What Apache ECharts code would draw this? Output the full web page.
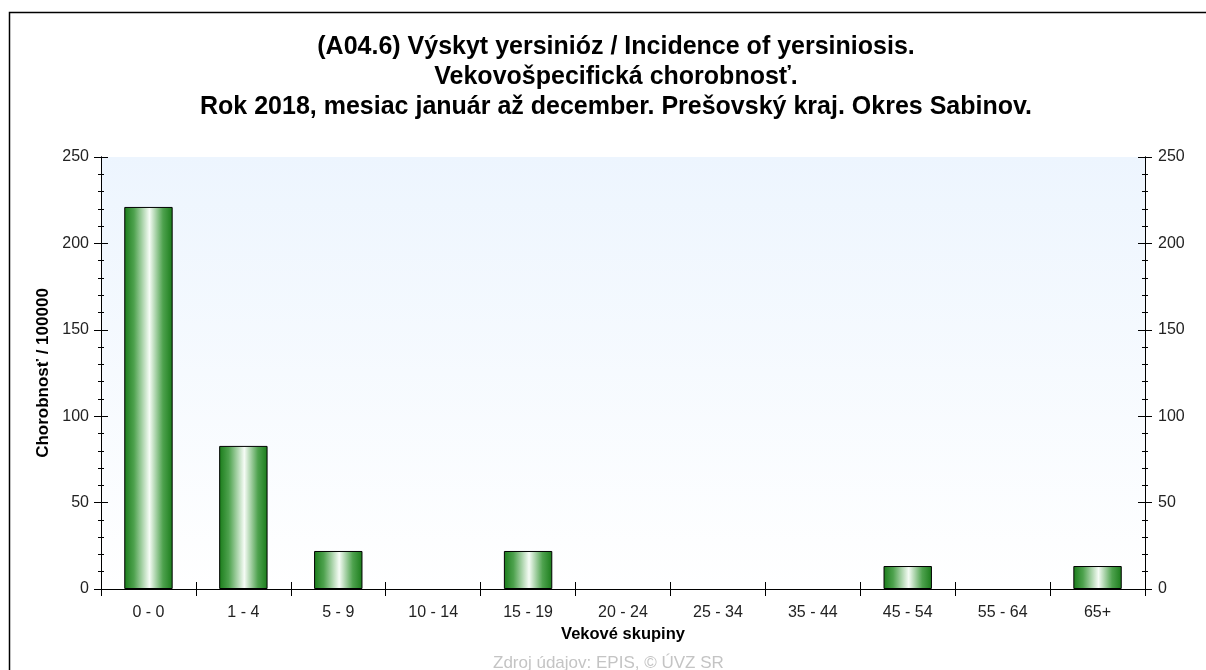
<!DOCTYPE html>
<html><head><meta charset="utf-8">
<script src="https://cdn.jsdelivr.net/npm/echarts@6/dist/echarts.min.js"></script>
<style>html,body{margin:0;padding:0;background:#fff}#c{width:1206px;height:670px}</style>
</head><body><div id="c"></div>
<script>
var categories = ['0 - 0','1 - 4','5 - 9','10 - 14','15 - 19','20 - 24','25 - 34','35 - 44','45 - 54','55 - 64','65+'];
var values = [221.1, 82.8, 22.0, 0, 22.0, 0, 0, 0, 13.3, 0, 13.3];
var yTicks = {min: 0, max: 250, interval: 50};
var titleLines = ['(A04.6) Výskyt yersinióz / Incidence of yersiniosis.', 'Vekovošpecifická chorobnosť.', 'Rok 2018, mesiac január až december. Prešovský kraj. Okres Sabinov.'];
var xName = 'Vekové skupiny';
var yName = 'Chorobnosť / 100000';
var sourceText = 'Zdroj údajov: EPIS, © ÚVZ SR';

var FONT = 'Liberation Sans, Arial, sans-serif';
var chart = echarts.init(document.getElementById('c'), null, {renderer: 'canvas'});
var barGrad = new echarts.graphic.LinearGradient(0, 0, 1, 0, [
  {offset: 0, color: '#1a7c1a'},
  {offset: 0.2, color: '#4ea24e'},
  {offset: 0.52, color: '#f6fcf6'},
  {offset: 0.8, color: '#4ea24e'},
  {offset: 1, color: '#1a7c1a'}
]);
function yAx(pos, inside, showLabel, name) {
  return {
    type: 'value', position: pos, min: yTicks.min, max: yTicks.max, interval: yTicks.interval,
    axisLine: {show: true, lineStyle: {color: '#000', width: 1}},
    axisTick: {show: true, inside: inside, length: 7, lineStyle: {color: '#000', width: 1}},
    minorTick: {show: true, splitNumber: 5, length: 3, lineStyle: {color: '#000', width: 1}},
    axisLabel: {show: showLabel, color: '#222', fontFamily: FONT, fontSize: 16, margin: pos === 'left' ? 12 : 13},
    splitLine: {show: false},
    name: name || '', nameLocation: 'middle', nameGap: 44,
    nameTextStyle: {fontFamily: FONT, fontSize: 17, fontWeight: 'bold', color: '#000'}
  };
}
function xAx(pos, inside, showLabel, name) {
  return {
    type: 'category', position: pos, data: categories,
    axisLine: {show: true, lineStyle: {color: '#000', width: 1}},
    axisTick: {show: true, inside: inside, length: 7, alignWithLabel: false, lineStyle: {color: '#000', width: 1}},
    axisLabel: {show: showLabel, color: '#222', fontFamily: FONT, fontSize: 16, margin: 16},
    splitLine: {show: false},
    name: name || '', nameLocation: 'middle', nameGap: 37,
    nameTextStyle: {fontFamily: FONT, fontSize: 16.5, fontWeight: 'bold', color: '#000'}
  };
}
chart.setOption({
  animation: false,
  backgroundColor: '#fff',
  title: {
    text: titleLines.join('\n'), left: 611, top: 27, textAlign: 'center',
    textStyle: {fontFamily: FONT, fontSize: 25, fontWeight: 'bold', color: '#000', lineHeight: 30}
  },
  grid: {
    left: 101, right: 61, top: 157, bottom: 81, show: true, borderWidth: 0,
    backgroundColor: new echarts.graphic.LinearGradient(0, 0, 0, 1, [
      {offset: 0, color: '#edf5fe'}, {offset: 1, color: '#ffffff'}
    ])
  },
  xAxis: [xAx('bottom', false, true, xName), xAx('bottom', true, false), xAx('top', true, false)],
  yAxis: [yAx('left', false, true, yName), yAx('left', true, false), yAx('right', false, true), yAx('right', true, false)],
  series: [{
    type: 'bar', xAxisIndex: 0, yAxisIndex: 0, barWidth: '51%',
    data: values.map(function (v) { return v === 0 ? null : v; }),
    itemStyle: {color: barGrad, borderColor: '#000', borderWidth: 1}
  }],
  graphic: [
    {type: 'rect', left: 7, top: 10, shape: {width: 1300, height: 800}, style: {fill: 'none', stroke: '#000', lineWidth: 1.5}, silent: true, z: 100},
    {type: 'text', left: 493, top: 655, style: {text: sourceText, font: '17px ' + FONT, fill: '#c4c4c4'}, z: 100}
  ]
});
</script></body></html>
